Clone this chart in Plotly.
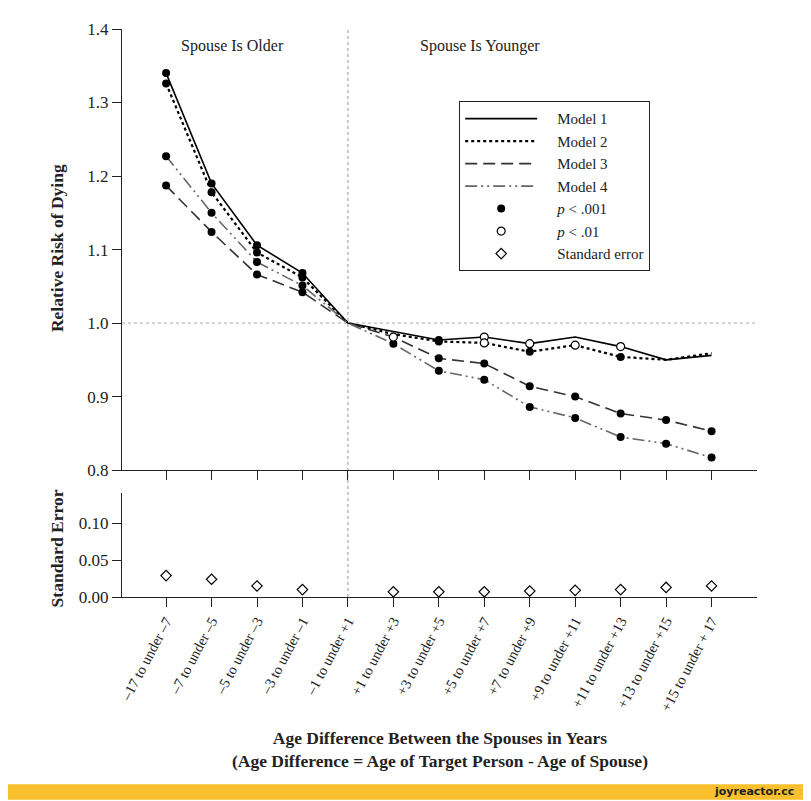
import plotly.graph_objects as go

categories = ["–17 to under –7", "–7 to under –5", "–5 to under –3", "–3 to under –1",
              "–1 to under +1", "+1 to under +3", "+3 to under +5", "+5 to under +7",
              "+7 to under +9", "+9 to under +11", "+11 to under +13", "+13 to under +15",
              "+15 to under + 17"]

model1 = [1.340, 1.190, 1.106, 1.068, 1.000, 0.988, 0.977, 0.981, 0.972, 0.981, 0.968, 0.950, 0.956]
model2 = [1.326, 1.178, 1.096, 1.062, 1.000, 0.985, 0.975, 0.973, 0.961, 0.970, 0.954, 0.950, 0.959]
model3 = [1.187, 1.124, 1.066, 1.042, 1.000, 0.981, 0.952, 0.945, 0.914, 0.900, 0.877, 0.868, 0.853]
model4 = [1.227, 1.150, 1.083, 1.051, 1.000, 0.972, 0.935, 0.923, 0.886, 0.871, 0.845, 0.836, 0.817]

# significance: "a" = p < .001, "b" = p < .01, "" = none
sig1 = ["a", "a", "a", "a", "", "", "a", "b", "b", "", "b", "", ""]
sig2 = ["a", "a", "a", "a", "", "", "a", "b", "a", "b", "a", "", ""]
sig3 = ["a", "a", "a", "a", "", "b", "a", "a", "a", "a", "a", "a", "a"]
sig4 = ["a", "a", "a", "a", "", "a", "a", "a", "a", "a", "a", "a", "a"]

std_error = [0.029, 0.024, 0.015, 0.010, None, 0.007, 0.007, 0.007, 0.008, 0.009, 0.010, 0.013, 0.015]

legend_names = ["Model 1", "Model 2", "Model 3", "Model 4",
                "<i>p</i> < .001", "<i>p</i> < .01", "Standard error"]

PAD = "\u00a0\u00a0\u00a0\u00a0"

line_styles = [dict(color="black", width=1.6, dash="solid"),
               dict(color="black", width=2.2, dash="dot"),
               dict(color="#333333", width=1.6, dash="12px,6px"),
               dict(color="#666666", width=1.6, dash="12px,4px,2px,4px,2px,4px")]
models = list(zip(legend_names[:4], [model1, model2, model3, model4],
                  [sig1, sig2, sig3, sig4], line_styles))

SERIF = "Liberation Serif"
fig = go.Figure()

for name, vals, sig, line in models:
    fig.add_trace(go.Scatter(x=categories, y=vals, mode="lines", name=PAD + name, line=line,
                             xaxis="x", yaxis="y"))

def pick(code):
    xs, ys = [], []
    for _, vals, sig, _ in models:
        for c, v, s in zip(categories, vals, sig):
            if s == code:
                xs.append(c)
                ys.append(v)
    return xs, ys

xa, ya = pick("a")
fig.add_trace(go.Scatter(x=xa, y=ya, mode="markers", name=PAD + legend_names[4],
                         marker=dict(symbol="circle", size=8, color="black"),
                         xaxis="x", yaxis="y"))
xb, yb = pick("b")
fig.add_trace(go.Scatter(x=xb, y=yb, mode="markers", name=PAD + legend_names[5],
                         marker=dict(symbol="circle", size=8, color="white",
                                     line=dict(color="black", width=1.2)),
                         xaxis="x", yaxis="y"))
fig.add_trace(go.Scatter(x=categories, y=std_error, mode="markers", name=PAD + legend_names[6],
                         marker=dict(symbol="diamond-open", size=8, color="black",
                                     line=dict(width=1.2)),
                         xaxis="x2", yaxis="y2"))

axis_common = dict(showgrid=False, zeroline=False, showline=True, linecolor="#222",
                   linewidth=1.2, ticks="outside", ticklen=9, tickcolor="#222",
                   tickfont=dict(family=SERIF, size=17, color="#222"))

fig.update_layout(
    width=803, height=793,
    margin=dict(l=114, r=54, t=16, b=204),
    paper_bgcolor="white", plot_bgcolor="white",
    font=dict(family=SERIF, color="#222"),
    xaxis=dict(axis_common, anchor="y", type="category", categoryorder="array",
               categoryarray=categories, range=[-0.97, 13.0], showticklabels=False),
    yaxis=dict(axis_common, domain=[0.2234, 1.0], range=[0.8, 1.4], dtick=0.1,
               tickformat=".1f"),
    xaxis2=dict(axis_common, anchor="y2", matches="x", type="category",
                categoryorder="array", categoryarray=categories, tickangle=-62,
                tickfont=dict(family=SERIF, size=14.5, color="#222")),
    yaxis2=dict(axis_common, domain=[0.0, 0.1832], range=[0.0, 0.141],
                tickvals=[0.0, 0.05, 0.10], tickformat=".2f"),
    legend=dict(x=0.531, y=0.8726, xanchor="left", yanchor="top",
                bordercolor="#222", borderwidth=1, bgcolor="white",
                font=dict(family=SERIF, size=15, color="#222"), itemwidth=72,
                tracegroupgap=0),
    showlegend=True,
)

fig.add_shape(type="line", xref="x", yref="paper", x0=4, x1=4, y0=0, y1=1,
              line=dict(color="#999", width=1, dash="dot"), layer="below")
fig.add_shape(type="line", xref="paper", yref="y", x0=0, x1=1, y0=1.0, y1=1.0,
              line=dict(color="#aaa", width=1, dash="dot"), layer="below")

ann = [
    dict(text="Spouse Is Older", x=0.1748, y=0.9703, font=dict(size=16)),
    dict(text="Spouse Is Younger", x=0.5638, y=0.9703, font=dict(size=16)),
    dict(text="<b>Relative Risk of Dying</b>", x=-0.1024, y=0.6143, textangle=-90,
         font=dict(size=17.5)),
    dict(text="<b>Standard Error</b>", x=-0.1024, y=0.0855, textangle=-90,
         font=dict(size=17.5)),
    dict(text="<b>Age Difference Between the Spouses in Years<br>(Age Difference = Age of Target Person - Age of Spouse)</b>",
         x=0.501, y=-0.2688, font=dict(size=17.5)),
]
for a in ann:
    fig.add_annotation(xref="paper", yref="paper", showarrow=False, xanchor="center",
                       yanchor="middle", **a)

# watermark band
fig.add_shape(type="rect", xref="paper", yref="paper", x0=-0.2, x1=1.1, y0=-0.357, y1=-0.3298,
              fillcolor="#F9BF2C", line=dict(width=0))
fig.add_annotation(xref="paper", yref="paper", x=1.062, y=-0.343, xanchor="right",
                   yanchor="middle", showarrow=False, text="<b>joyreactor.cc</b>",
                   font=dict(family="DejaVu Sans", size=11, color="#222"))

fig.write_html("out.html")
